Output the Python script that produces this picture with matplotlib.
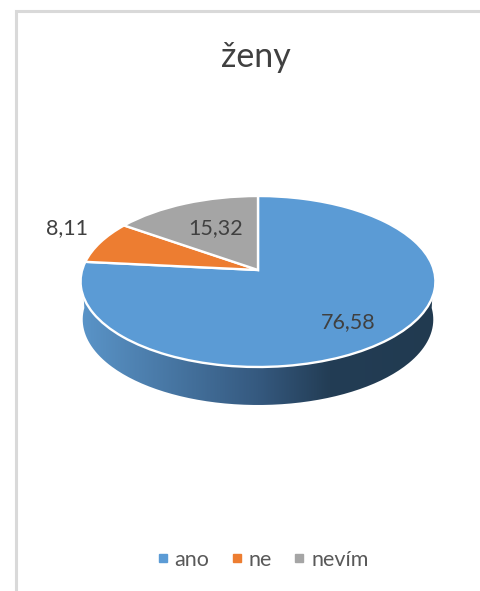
import numpy as np
import matplotlib
matplotlib.use("Agg")
import matplotlib.pyplot as plt
from matplotlib.colors import LinearSegmentedColormap
from matplotlib.lines import Line2D
from matplotlib.patches import PathPatch
from matplotlib.path import Path
from matplotlib.transforms import Transform

plt.rcParams['font.family'] = ['Lato', 'DejaVu Sans']

############### DATA ###################

title = "ženy"
categories = ["ano", "ne", "nevím"]
values = [76.58, 8.11, 15.32]
colors = ["#5b9bd5", "#ed7d31", "#a5a5a5"]

# side of the pie, left to right
side_stops = [0.0, 0.5, 0.7, 1.0]
side_colors = ["#5a94c8", "#35597f", "#233d55", "#213a50"]

text_color = "#404040"
legend_color = "#595959"
frame_color = "#d9d9d9"

############### PIE GEOMETRY ###################

cx, cy = 258, 270     # apex of the pie in pixels
kx, ky = 175.8, 83.95
k = 0.1345            # perspective
depth = 38


class Tilt(Transform):
  # unit circle of the pie -> tilted ellipse in pixel coordinates
  input_dims = 2
  output_dims = 2

  def transform_non_affine(self, xy):
    xy = np.asarray(xy, dtype=float)
    w = 1 + k*xy[:, 1]
    return np.column_stack((cx + kx*xy[:, 0]/w, cy - ky*xy[:, 1]/w))


tilt = Tilt()

############### FIGURE ###################

fig = plt.figure(figsize=(4.8, 5.91), dpi=100)
ax = fig.add_axes([0, 0, 1, 1])

wedges, _ = ax.pie(values, colors=colors, startangle=90, counterclock=False,
                   wedgeprops={"edgecolor": "white", "linewidth": 1.7})
ax.set_aspect("auto")
ax.set_xlim(0, 480)
ax.set_ylim(591, 0)

for w in wedges:
  w.set_transform(tilt + ax.transData)
  w.set_zorder(3)

# side of the pie, gradient clipped to the lower half of the outline
t = np.linspace(np.pi, 2*np.pi, 200)
rim = tilt.transform(np.column_stack((np.cos(t), np.sin(t))))
low = rim.copy()
low[:, 0] = cx + (low[:, 0] - cx)*0.988
low[:, 1] = low[:, 1] + depth
side_xy = np.vstack((rim[:1], low, rim[-1:], rim[:1]))
side = PathPatch(Path(side_xy), facecolor="none", edgecolor="none", transform=ax.transData)
ax.add_patch(side)
side_cmap = LinearSegmentedColormap.from_list("side", list(zip(side_stops, side_colors)))
im = ax.imshow(np.linspace(0, 1, 256).reshape(1, -1), cmap=side_cmap, aspect="auto",
               extent=(rim[:, 0].min(), rim[:, 0].max(), 420, 260), zorder=2)
im.set_clip_path(side)
ax.set_xlim(0, 480)
ax.set_ylim(591, 0)

# value labels
label_pos = [(348, 322), (67, 228), (216, 228)]
for v, (x, y) in zip(values, label_pos):
  ax.text(x, y, ("%.2f" % v).replace(".", ","), color=text_color, fontsize=15.5,
          ha="center", va="center", zorder=5)

ax.text(256, 57, title, color=text_color, fontsize=24.5, ha="center", va="center")

# legend
handles = [Line2D([], [], linestyle="none", marker="s", markersize=5.8, color=c) for c in colors]
ax.legend(handles, categories, loc="center", bbox_to_anchor=(262, 560),
          bbox_transform=ax.transData, ncol=3, frameon=False, fontsize=15.5,
          labelcolor=legend_color, handlelength=0.7, handletextpad=0.2, columnspacing=0.92)

# chart frame
ax.plot([15.5, 15.5, 480], [590, 10.5, 10.5], color=frame_color, lw=2.2, solid_joinstyle="miter")

fig.savefig("out.png", dpi=100)
